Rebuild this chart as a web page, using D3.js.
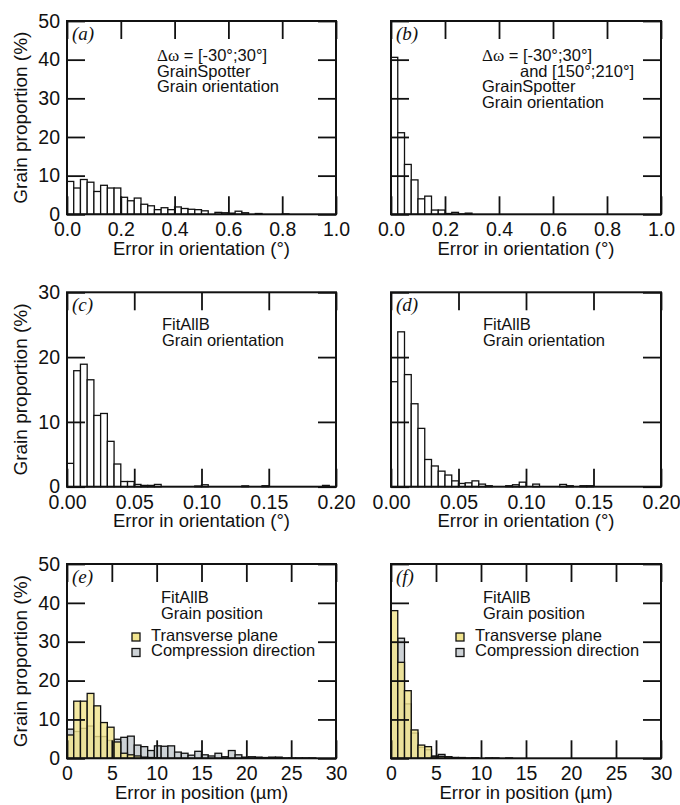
<!DOCTYPE html>
<html>
<head>
<meta charset="utf-8">
<script src="https://cdn.jsdelivr.net/npm/d3@7"></script>
<style>
  html, body { margin: 0; padding: 0; background: #fff; }
  svg { display: block; }
  text { font-family: "Liberation Sans", Arial, Helvetica, sans-serif; fill: #111; }
</style>
</head>
<body>
<svg id="chart" width="680" height="805"></svg>
<script>
// ---- histogram data (grain proportion, %) ----
// (a) GrainSpotter, Δω = [-30°;30°], bins of 0.025°
const orientA = [8.5, 6.8, 9.0, 8.3, 5.9, 7.5, 6.8, 6.8, 4.4, 3.5, 4.2, 2.6, 2.2, 1.2, 1.7, 1.2, 1.9, 1.5, 1.3, 1.2,
                 0.9, 0, 0.5, 0.4, 0.3, 0.8, 0.4, 0, 0.2, 0, 0, 0, 0.1, 0, 0, 0, 0, 0, 0, 0];
// (b) GrainSpotter, Δω = [-30°;30°] and [150°;210°], bins of 0.025°
const orientB = [40.6, 21.1, 12.9, 8.9, 4.0, 4.7, 1.1, 1.1, 0.2, 0.5, 0.1, 0.3, 0, 0, 0, 0, 0, 0, 0, 0,
                 0, 0, 0, 0, 0, 0, 0, 0, 0, 0, 0, 0, 0, 0, 0, 0, 0, 0, 0, 0];
// (c) FitAllB, bins of 0.005°
const orientC = [3.6, 17.9, 18.9, 16.5, 11.0, 11.3, 7.0, 3.5, 0.8, 0.8, 0.35, 0.2, 0.2, 0.35, 0, 0, 0, 0, 0, 0.1,
                 0.3, 0, 0, 0, 0, 0, 0.13, 0, 0, 0.15, 0, 0, 0, 0, 0, 0, 0, 0, 0.2, 0];
// (d) FitAllB, bins of 0.005°
const orientD = [16.2, 23.9, 17.3, 12.8, 9.0, 4.2, 3.2, 2.4, 1.8, 0.9, 0.5, 0.6, 0.9, 0.4, 0.15, 0, 0, 0.15, 0.3, 0.7,
                 0, 0.4, 0, 0, 0, 0.35, 0.15, 0, 0.15, 0.15, 0, 0, 0, 0, 0, 0, 0, 0, 0, 0];
// (e) FitAllB position error, bins of 0.75 µm
const transE = [6.0, 14.7, 14.7, 16.7, 13.5, 9.2, 8.0, 4.2, 1.3, 0.9, 0.6, 0.3, 0.2, 0.1, 0, 0, 0, 0, 0, 0,
                0, 0, 0, 0, 0, 0, 0, 0, 0, 0, 0, 0, 0, 0, 0, 0, 0, 0, 0, 0];
const compE  = [7.5, 6.9, 7.7, 8.3, 5.6, 5.6, 4.6, 4.9, 5.4, 5.7, 3.4, 3.0, 2.0, 3.2, 3.1, 3.2, 1.6, 1.3, 0.8, 1.8,
                0.9, 0.6, 1.3, 0.4, 2.0, 0.9, 0.3, 0.4, 0.3, 0.2, 0.3, 0.3, 0.1, 0.1, 0.1, 0.1, 0.1, 0, 0, 0];
// (f) FitAllB position error, bins of 0.75 µm
const transF = [38.0, 24.7, 17.4, 7.3, 3.4, 3.0, 0.4, 0.5, 0.4, 0.2, 0.1, 0, 0.1, 0, 0, 0, 0, 0, 0, 0,
                0, 0, 0, 0, 0, 0, 0, 0, 0, 0, 0, 0, 0, 0, 0, 0, 0, 0, 0, 0];
const compF  = [30.0, 30.9, 14.0, 6.5, 2.8, 2.2, 0.6, 1.0, 0.4, 0.2, 0.2, 0.1, 0.1, 0, 0.1, 0.1, 0, 0.1, 0, 0,
                0, 0, 0, 0, 0, 0, 0, 0, 0, 0, 0, 0, 0, 0, 0, 0, 0, 0, 0, 0];

// ---- axis tick values and labels ----
const ticksOrientWide = [0, 0.2, 0.4, 0.6, 0.8, 1.0];
const ticksOrientNarrow = [0, 0.05, 0.10, 0.15, 0.20];
const ticksPosition = [0, 5, 10, 15, 20, 25, 30];
const ticksY50 = [0, 10, 20, 30, 40, 50];
const ticksY30 = [0, 10, 20, 30];

const titleOrient = "Error in orientation (°)";
const titlePosition = "Error in position (µm)";
const titleY = "Grain proportion (%)";
const legendLabels = ["Transverse plane", "Compression direction"];

const yellow = "#F1E48E";
const grey = "#CDD2D6";

// ---- layout ----
const cols = [{ x0: 67, x1: 336 }, { x0: 391, x1: 661 }];
const rows = [{ y0: 21, y1: 214.3 }, { y0: 292.3, y1: 486.7 }, { y0: 564, y1: 758.3 }];
const TICK = 18;
const TICK_FONT = "19.5px";

const panels = [
  { id: "a", col: 0, row: 0, xmax: 1.0, bw: 0.025, xticks: ticksOrientWide, fmt: d3.format(".1f"), ymax: 50, yticks: ticksY50,
    series: [{ values: orientA, fill: "#fff" }], xtitle: titleOrient, tx: 90,
    lines: [["Δω", " = [-30°;30°]"], "GrainSpotter", "Grain orientation"] },
  { id: "b", col: 1, row: 0, xmax: 1.0, bw: 0.025, xticks: ticksOrientWide, fmt: d3.format(".1f"), ymax: 50, yticks: ticksY50,
    series: [{ values: orientB, fill: "#fff" }], xtitle: titleOrient, tx: 91,
    lines: [["Δω", " = [-30°;30°]"], { text: "and [150°;210°]", dx: 38 }, "GrainSpotter", "Grain orientation"] },
  { id: "c", col: 0, row: 1, xmax: 0.2, bw: 0.005, xticks: ticksOrientNarrow, fmt: d3.format(".2f"), ymax: 30, yticks: ticksY30,
    series: [{ values: orientC, fill: "#fff" }], xtitle: titleOrient, tx: 95,
    lines: ["FitAllB", "Grain orientation"], firstLine: 37.5 },
  { id: "d", col: 1, row: 1, xmax: 0.2, bw: 0.005, xticks: ticksOrientNarrow, fmt: d3.format(".2f"), ymax: 30, yticks: ticksY30,
    series: [{ values: orientD, fill: "#fff" }], xtitle: titleOrient, tx: 92,
    lines: ["FitAllB", "Grain orientation"], firstLine: 38 },
  { id: "e", col: 0, row: 2, xmax: 30, bw: 0.75, xticks: ticksPosition, fmt: d3.format("d"), ymax: 50, yticks: ticksY50,
    series: [{ values: compE, fill: grey }, { values: transE, fill: yellow, overlay: true }], xtitle: titlePosition, tx: 94,
    lines: ["FitAllB", "Grain position"], firstLine: 39, legend: true },
  { id: "f", col: 1, row: 2, xmax: 30, bw: 0.75, xticks: ticksPosition, fmt: d3.format("d"), ymax: 50, yticks: ticksY50,
    series: [{ values: compF, fill: grey }, { values: transF, fill: yellow, overlay: true }], xtitle: titlePosition, tx: 92,
    lines: ["FitAllB", "Grain position"], firstLine: 39, legend: true }
];

const svg = d3.select("#chart");

panels.forEach(p => {
  const c = cols[p.col], r = rows[p.row];
  const x = d3.scaleLinear().domain([0, p.xmax]).range([c.x0, c.x1]);
  const y = d3.scaleLinear().domain([0, p.ymax]).range([r.y1, r.y0]);
  const g = svg.append("g").attr("class", "panel-" + p.id);

  // histogram bars
  p.series.forEach(s => {
    const bins = s.values.map((v, i) => ({ i, v })).filter(d => d.v > 0);
    g.append("g").selectAll("rect").data(bins).join("rect")
      .attr("x", d => x(d.i * p.bw))
      .attr("width", d => x((d.i + 1) * p.bw) - x(d.i * p.bw))
      .attr("y", d => y(d.v))
      .attr("height", d => y(0) - y(d.v))
      .attr("fill", s.fill)
      .attr("fill-opacity", s.overlay ? 0.82 : 1)
      .attr("stroke", "#111")
      .attr("stroke-width", 1.3);
  });

  // inward ticks on all four sides
  const axB = d3.axisBottom(x).tickValues(p.xticks).tickFormat(p.fmt).tickSizeInner(-TICK).tickSizeOuter(0).tickPadding(8);
  const axT = d3.axisTop(x).tickValues(p.xticks).tickFormat("").tickSizeInner(-TICK).tickSizeOuter(0);
  const axL = d3.axisLeft(y).tickValues(p.yticks).tickFormat(p.col === 0 ? d3.format("d") : "").tickSizeInner(-TICK).tickSizeOuter(0).tickPadding(7);
  const axR = d3.axisRight(y).tickValues(p.yticks).tickFormat("").tickSizeInner(-TICK).tickSizeOuter(0);

  const styleAxis = sel => {
    sel.select(".domain").remove();
    sel.selectAll(".tick line").attr("stroke", "#111").attr("stroke-width", 1.8);
    sel.selectAll(".tick text").attr("fill", "#111").style("font-size", TICK_FONT)
      .style("font-family", '"Liberation Sans", Arial, sans-serif');
  };
  g.append("g").attr("transform", `translate(0,${r.y1})`).call(axB).call(styleAxis);
  g.append("g").attr("transform", `translate(0,${r.y0})`).call(axT).call(styleAxis);
  g.append("g").attr("transform", `translate(${c.x0},0)`).call(axL).call(styleAxis);
  g.append("g").attr("transform", `translate(${c.x1},0)`).call(axR).call(styleAxis);

  // frame
  g.append("rect").attr("x", c.x0).attr("y", r.y0).attr("width", c.x1 - c.x0).attr("height", r.y1 - r.y0)
    .attr("fill", "none").attr("stroke", "#111").attr("stroke-width", 2);

  // panel letter
  g.append("text").attr("x", c.x0 + 5).attr("y", r.y0 + 19)
    .style("font-family", '"Liberation Serif", "Times New Roman", serif').style("font-style", "italic").style("font-size", "19px")
    .text(`(${p.id})`);

  // annotation lines
  const first = p.firstLine || 40;
  p.lines.forEach((ln, i) => {
    const t = g.append("text").attr("x", c.x0 + p.tx).attr("y", r.y0 + first + i * 15.7).style("font-size", "16.5px");
    if (Array.isArray(ln)) {
      t.append("tspan").style("font-family", '"Liberation Serif", "Times New Roman", serif').style("font-size", "17px").text(ln[0]);
      t.append("tspan").text(ln[1]);
    } else if (typeof ln === "object") {
      t.attr("x", c.x0 + p.tx + ln.dx).text(ln.text);
    } else {
      t.text(ln);
    }
  });

  // legend
  if (p.legend) {
    [yellow, grey].forEach((col, i) => {
      g.append("rect").attr("x", c.x0 + 65).attr("y", r.y0 + 69 + i * 15.5).attr("width", 8).attr("height", 8)
        .attr("fill", col).attr("stroke", "#111").attr("stroke-width", 1.3);
      g.append("text").attr("x", c.x0 + 84).attr("y", r.y0 + 76.5 + i * 15.5).style("font-size", "16.5px").text(legendLabels[i]);
    });
  }

  // axis titles
  g.append("text").attr("x", (c.x0 + c.x1) / 2).attr("y", r.y1 + 40.5).attr("text-anchor", "middle")
    .style("font-size", "18.5px").text(p.xtitle);
  if (p.col === 0) {
    g.append("text").attr("transform", `translate(26.5,${(r.y0 + r.y1) / 2}) rotate(-90)`).attr("text-anchor", "middle")
      .style("font-size", "19px").text(titleY);
  }
});
</script>
</body>
</html>
